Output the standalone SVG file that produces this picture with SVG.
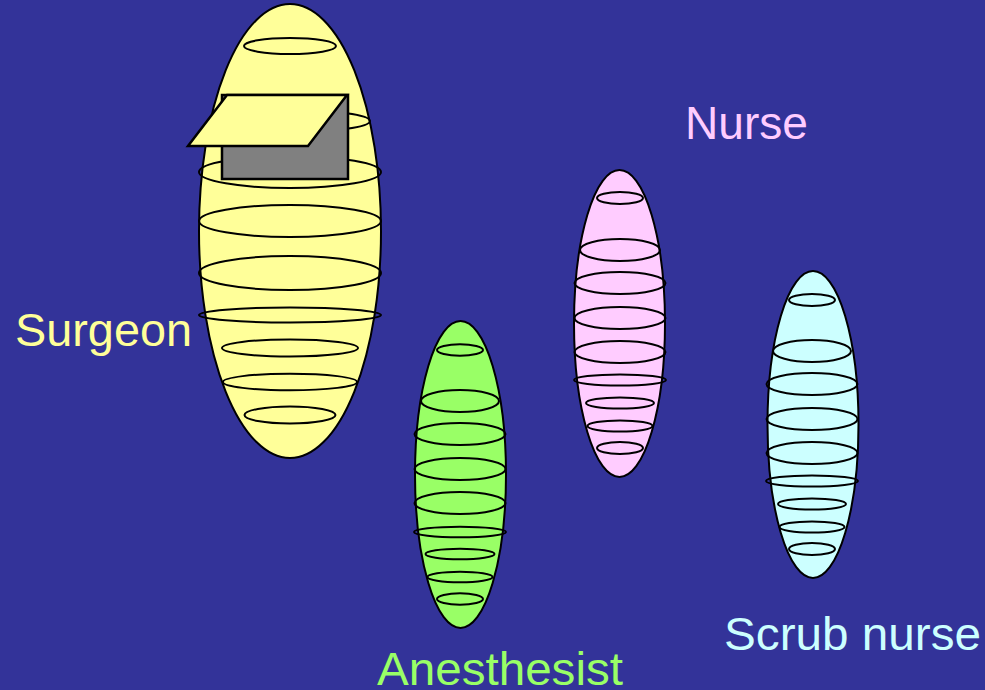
<svg xmlns="http://www.w3.org/2000/svg" width="985" height="690" viewBox="0 0 985 690">
<style>
.o{stroke:#000;stroke-width:2}
.r{fill:none;stroke:#000;stroke-width:2}
.y{fill:#FFFF99}
.g{fill:#99FF66}
.p{fill:#FFCCFF}
.c{fill:#CCFFFF}
text{font-family:"Liberation Sans",Arial,sans-serif;font-size:47px}
</style>
<rect width="985" height="690" fill="#333399"/>
<g id="surgeon">
<ellipse class="o y" cx="290" cy="231" rx="91" ry="227"/>
<ellipse class="r" cx="290" cy="46" rx="46" ry="8"/>
<ellipse class="r" cx="290" cy="121" rx="80" ry="11"/>
<ellipse class="r" cx="290" cy="172" rx="91" ry="16"/>
<ellipse class="r" cx="290" cy="221" rx="91" ry="16"/>
<ellipse class="r" cx="290" cy="273" rx="91" ry="17"/>
<ellipse class="r" cx="290" cy="315" rx="91" ry="7.5"/>
<ellipse class="r" cx="290" cy="348" rx="68" ry="8.5"/>
<ellipse class="r" cx="290" cy="382" rx="67" ry="8.3"/>
<ellipse class="r" cx="290" cy="415" rx="45.5" ry="8.5"/>
<rect x="222" y="95" width="126" height="84" fill="#808080" stroke="#000" stroke-width="2.5"/>
<polygon points="227,95 347,95 308,146 188,146" class="y" stroke="#000" stroke-width="2.5" stroke-linejoin="miter"/>
<text x="15" y="346" fill="#FFFF99" textLength="177" lengthAdjust="spacingAndGlyphs">Surgeon</text>
</g>
<g id="anesthesist">
<ellipse class="o g" cx="460.5" cy="474.5" rx="45.5" ry="153.5"/>
<ellipse class="r" cx="460" cy="350" rx="23" ry="5.7"/>
<ellipse class="r" cx="460" cy="401" rx="39" ry="11"/>
<ellipse class="r" cx="460" cy="434" rx="45.5" ry="11"/>
<ellipse class="r" cx="460" cy="469" rx="45.5" ry="11"/>
<ellipse class="r" cx="460" cy="503" rx="45.5" ry="11"/>
<ellipse class="r" cx="460" cy="532" rx="46" ry="5.3"/>
<ellipse class="r" cx="460" cy="554" rx="34.5" ry="5.3"/>
<ellipse class="r" cx="460" cy="577" rx="32.5" ry="5.3"/>
<ellipse class="r" cx="460" cy="599" rx="23" ry="5.7"/>
<text x="377" y="685" fill="#99FF66" textLength="246" lengthAdjust="spacingAndGlyphs">Anesthesist</text>
</g>
<g id="nurse">
<ellipse class="o p" cx="619.5" cy="323.5" rx="45.5" ry="153.5"/>
<ellipse class="r" cx="620" cy="198" rx="23" ry="6"/>
<ellipse class="r" cx="620" cy="250" rx="40" ry="11"/>
<ellipse class="r" cx="620" cy="283" rx="45.5" ry="11"/>
<ellipse class="r" cx="620" cy="318" rx="45.5" ry="11"/>
<ellipse class="r" cx="620" cy="352" rx="45.5" ry="11"/>
<ellipse class="r" cx="620" cy="380" rx="46" ry="5.5"/>
<ellipse class="r" cx="620" cy="403" rx="34" ry="5.5"/>
<ellipse class="r" cx="620" cy="426" rx="32.5" ry="5.5"/>
<ellipse class="r" cx="620" cy="448" rx="23" ry="6"/>
<text x="685" y="139" fill="#FFCCFF" textLength="123" lengthAdjust="spacingAndGlyphs">Nurse</text>
</g>
<g id="scrub-nurse">
<ellipse class="o c" cx="813" cy="424.5" rx="45.5" ry="153.5"/>
<ellipse class="r" cx="812" cy="300" rx="23" ry="6"/>
<ellipse class="r" cx="812" cy="351" rx="39" ry="11"/>
<ellipse class="r" cx="812" cy="384" rx="45.5" ry="11"/>
<ellipse class="r" cx="812" cy="419" rx="45.5" ry="11"/>
<ellipse class="r" cx="812" cy="453" rx="45.5" ry="11"/>
<ellipse class="r" cx="812" cy="481" rx="46" ry="5.5"/>
<ellipse class="r" cx="812" cy="504" rx="34" ry="5.5"/>
<ellipse class="r" cx="812" cy="527" rx="32.5" ry="5.5"/>
<ellipse class="r" cx="812" cy="549" rx="23" ry="6"/>
<text x="724" y="650" fill="#CCFFFF" textLength="257" lengthAdjust="spacingAndGlyphs">Scrub nurse</text>
</g>
<g id="connectors"/>
</svg>
